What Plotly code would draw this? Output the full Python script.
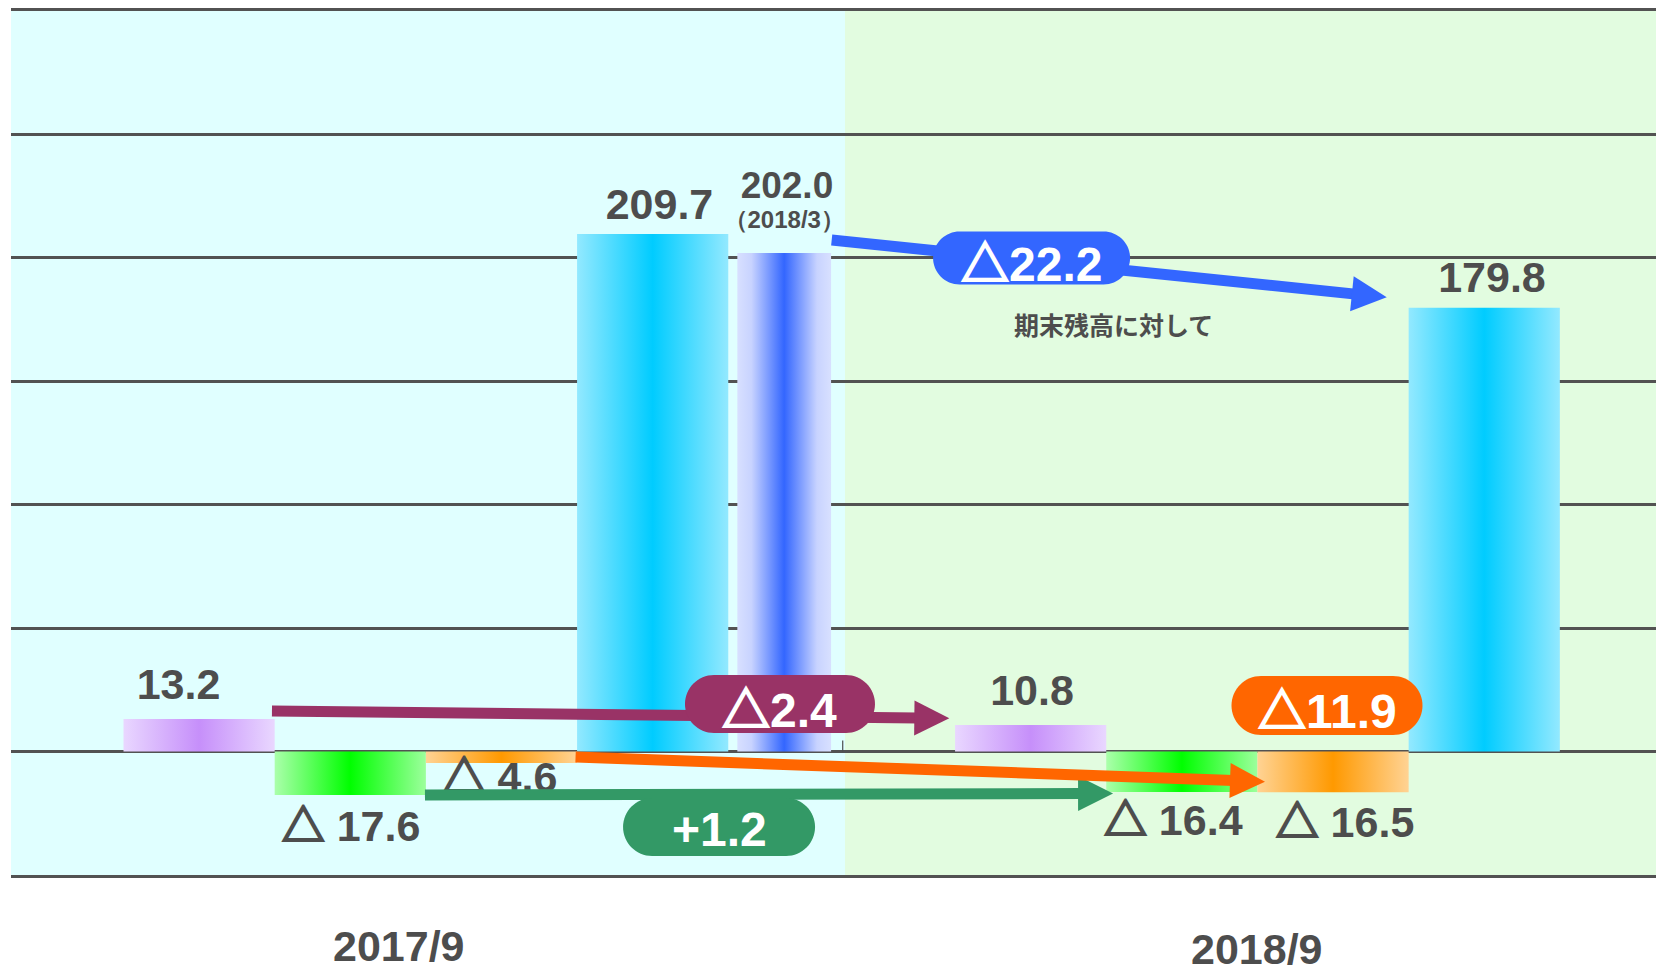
import math
import plotly.graph_objects as go

# 期間ラベル
periods = ["2017/9", "2018/9"]

# 各系列の値（左: 2017/9, 右: 2018/9）
purple_vals = [13.2, 10.8]
green_vals = [-17.6, -16.4]
orange_vals = [-4.6, -16.5]
balance_vals = [209.7, 179.8]

# 2018/3 時点の期末残高
balance_mar = 202.0
balance_mar_tag = "（2018/3）"
note_text = "期末残高に対して"

# --- レイアウト定数 ---
W, H = 1656, 974
ML, MR, MT, MB = 11, 0, 11, 99
XR = [-1.244, 9.636]
YR = [-50, 300]
PXX = (W - ML - MR) / (XR[1] - XR[0])   # px per x unit
PXY = (H - MT - MB) / (YR[1] - YR[0])   # px per y unit

DARK = "#4D4D4D"
GRID = "#525252"
FONT = "Liberation Sans, Arial, sans-serif"
JP_FONT = "Noto Sans CJK JP, sans-serif"

group_x = [0.0, 5.5]
mid_x, mid_w = 3.87, 0.62
split_x = 4.272

grads = {
    "purple": [[0, "#E9D7FF"], [0.5, "#C68FFA"], [1, "#E9D7FF"]],
    "green": [[0, "#ABFFAB"], [0.5, "#00FF00"], [1, "#9CFF9C"]],
    "orange": [[0, "#FFD394"], [0.5, "#FF9900"], [1, "#FFD394"]],
    "cyan": [[0, "#93E9FF"], [0.5, "#00CCFF"], [1, "#93E9FF"]],
    "blue": [[0, "#D8E0FF"], [0.15, "#C8D3FF"], [0.5, "#3366FF"],
             [0.85, "#C8D3FF"], [1, "#D8E0FF"]],
}


def tri(color):
    # 太めの△（輪郭に線を足す）
    return (f"<span style=\"font-family:'Noto Sans CJK JP';font-weight:900;"
            f"stroke:{color};stroke-width:2px\">△</span>")


def fmt(v):
    return f"{v:.1f}" if v >= 0 else f"{tri(DARK)} {abs(v):.1f}"


def fmt_change(d):
    return f"+{d:.1f}" if d > 0 else f"{tri('white')}{abs(d):.1f}"


fig = go.Figure()


def add_bar(xc, w, v, scale):
    x0, x1 = xc - w / 2, xc + w / 2
    fig.add_trace(go.Scatter(
        x=[x0, x0, x1, x1, x0], y=[0, v, v, 0, 0],
        mode="lines", line=dict(width=0), fill="toself",
        fillgradient=dict(type="horizontal", colorscale=scale),
        hoverinfo="skip", showlegend=False))


series = [(purple_vals, "purple"), (green_vals, "green"),
          (orange_vals, "orange"), (balance_vals, "cyan")]

for g, gx in enumerate(group_x):
    for k, (vals, key) in enumerate(series):
        add_bar(gx + k, 1.0, vals[g], grads[key])
add_bar(mid_x, mid_w, balance_mar, grads["blue"])

# 値ラベルの位置ずれ（x: 区分単位, y: 値単位）
label_off = {
    "purple": [(-0.136, 12.4), (0.009, 12.3)],
    "green": [(0.005, -14.4), (-0.057, -13.1)],
    "orange": [(-0.01, -7.3), (0.079, -13.6)],
    "cyan": [(0.045, 10.3), (0.051, 10.6)],
}

lx, ly, lt = [], [], []
for g, gx in enumerate(group_x):
    for k, (vals, key) in enumerate(series):
        dx, dy = label_off[key][g]
        lx.append(gx + k + dx)
        ly.append(vals[g] + dy)
        lt.append(fmt(vals[g]))

fig.add_trace(go.Scatter(
    x=lx, y=ly, text=lt, mode="text", textposition="middle center",
    textfont=dict(family=FONT, size=43, color=DARK, weight="bold"),
    hoverinfo="skip", showlegend=False))

fig.add_trace(go.Scatter(
    x=[mid_x + 0.018, mid_x + 0.0], y=[balance_mar + 25.9, balance_mar + 12.6],
    text=[fmt(balance_mar), balance_mar_tag], mode="text",
    textposition="middle center",
    textfont=dict(family=FONT, size=[37, 24], color=DARK, weight="bold"),
    hoverinfo="skip", showlegend=False))

# --- 図形 ---
shapes = [
    dict(type="rect", xref="x", yref="y", x0=XR[0], x1=split_x, y0=YR[0], y1=YR[1],
         fillcolor="#E0FFFF", line=dict(width=0), layer="below"),
    dict(type="rect", xref="x", yref="y", x0=split_x, x1=XR[1], y0=YR[0], y1=YR[1],
         fillcolor="#E2FCE0", line=dict(width=0), layer="below"),
    dict(type="line", xref="x", yref="y", xsizemode="scaled", ysizemode="pixel",
         yanchor=0, x0=4.257, x1=4.257, y0=0, y1=11,
         line=dict(color=DARK, width=1.2)),
]

arrows = [
    ("#993366", (0.482, 16.4), (4.962, 13.5)),
    ("#339966", (1.494, -17.6), (6.045, -17.0)),
    ("#FF6600", (2.490, -2.2), (7.050, -12.2)),
    ("#3366FF", (4.184, 207.2), (7.855, 184.0)),
]
HEAD_L, HEAD_W, LINE_W = 35, 35, 11

for color, (sx, sy), (tx, ty) in arrows:
    ux, uy = (tx - sx) * PXX, (ty - sy) * PXY
    n = math.hypot(ux, uy)
    ux, uy = ux / n, uy / n
    ex = tx - 0.9 * HEAD_L * ux / PXX
    ey = ty - 0.9 * HEAD_L * uy / PXY
    shapes.append(dict(type="line", xref="x", yref="y", x0=sx, y0=sy, x1=ex, y1=ey,
                       line=dict(color=color, width=LINE_W), layer="above"))
    bx, by = -HEAD_L * ux, -HEAD_L * uy
    nx, ny = -uy, ux
    p1 = (bx + HEAD_W / 2 * nx, by + HEAD_W / 2 * ny)
    p2 = (bx - HEAD_W / 2 * nx, by - HEAD_W / 2 * ny)
    path = f"M0,0 L{p1[0]:.2f},{p1[1]:.2f} L{p2[0]:.2f},{p2[1]:.2f} Z"
    shapes.append(dict(type="path", xref="x", yref="y", xsizemode="pixel", ysizemode="pixel",
                       xanchor=tx, yanchor=ty, path=path, fillcolor=color,
                       line=dict(width=0), layer="above"))


def pill_path(w, h):
    r = h / 2
    k = 0.5523 * r
    a = w / 2 - r
    hw = w / 2
    return (f"M{-a:.1f},{r:.1f} L{a:.1f},{r:.1f} "
            f"C{a + k:.1f},{r:.1f} {hw:.1f},{k:.1f} {hw:.1f},0 "
            f"C{hw:.1f},{-k:.1f} {a + k:.1f},{-r:.1f} {a:.1f},{-r:.1f} "
            f"L{-a:.1f},{-r:.1f} "
            f"C{-a - k:.1f},{-r:.1f} {-hw:.1f},{-k:.1f} {-hw:.1f},0 "
            f"C{-hw:.1f},{k:.1f} {-a - k:.1f},{r:.1f} {-a:.1f},{r:.1f} Z")


pills = [
    ("#993366", (3.842, 19.3), (190, 58), fmt_change(purple_vals[1] - purple_vals[0])),
    ("#339966", (3.439, -30.6), (192, 58), fmt_change(green_vals[1] - green_vals[0])),
    ("#FF6600", (7.460, 18.7), (191, 59), fmt_change(orange_vals[1] - orange_vals[0])),
    ("#3366FF", (5.506, 199.9), (197, 53), fmt_change(balance_vals[1] - balance_mar)),
]

annotations = []
for color, (cx, cy), (pw, ph), txt in pills:
    shapes.append(dict(type="path", xref="x", yref="y", xsizemode="pixel", ysizemode="pixel",
                       xanchor=cx, yanchor=cy, path=pill_path(pw, ph), fillcolor=color,
                       line=dict(width=0), layer="above"))
    annotations.append(dict(x=cx, y=cy, xref="x", yref="y", text=txt, showarrow=False,
                            xanchor="center", yanchor="middle", yshift=-2,
                            font=dict(family=FONT, size=48, color="white", weight="bold")))

# 期間ラベル
for px_, ysh, txt in zip([1.322, 6.998], [-71, -74], periods):
    annotations.append(dict(x=px_, y=0, xref="x", yref="paper", text=txt, showarrow=False,
                            xanchor="center", yanchor="middle", yshift=ysh,
                            font=dict(family=FONT, size=43, color=DARK, weight="bold")))

annotations.append(dict(x=6.051, y=173.2, xref="x", yref="y", text=note_text,
                        showarrow=False, xanchor="center", yanchor="middle",
                        font=dict(family=JP_FONT, size=25, color=DARK, weight="bold")))

fig.update_layout(
    width=W, height=H,
    margin=dict(l=ML, r=MR, t=MT, b=MB),
    paper_bgcolor="white", plot_bgcolor="white",
    showlegend=False,
    shapes=shapes, annotations=annotations,
    xaxis=dict(range=XR, showgrid=False, zeroline=False, showticklabels=False,
               ticks="", showline=True, mirror=True, linecolor=GRID, linewidth=2.5,
               fixedrange=True),
    yaxis=dict(range=YR, dtick=50, tick0=0, showgrid=True, gridcolor=GRID, gridwidth=2.5,
               zeroline=True, zerolinecolor=GRID, zerolinewidth=2.5,
               showticklabels=False, ticks="", showline=False, fixedrange=True),
)

fig.write_html("out.html", config={"displayModeBar": False},
               post_script="document.body.style.margin='0px';")
